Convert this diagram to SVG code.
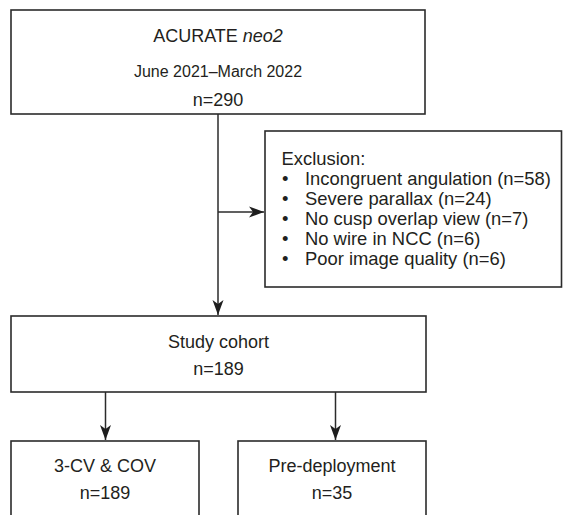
<svg xmlns="http://www.w3.org/2000/svg" width="563" height="515" viewBox="0 0 563 515">
  <style>
    .box { fill: #ffffff; stroke: #2b2b2b; stroke-width: 1.6; }
    .t { font-family: "Liberation Sans", Arial, sans-serif; font-size: 18px; fill: #231f20; }
    .c { text-anchor: middle; }
    .s { font-size: 16px; }
    .l { font-size: 18.4px; }
    .edge { fill: none; stroke: #2b2b2b; stroke-width: 1.5; }
  </style>
  <defs>
    <marker id="arr" markerUnits="userSpaceOnUse" markerWidth="18" markerHeight="12" viewBox="-16 -6 17 12" refX="0" refY="0" orient="auto">
      <path d="M0,0 L-15,-5.5 L-11,0 L-15,5.5 Z" fill="#1e1e1e"/>
    </marker>
  </defs>
  <rect width="563" height="515" fill="#ffffff"/>

  <g id="connectors">
    <path class="edge" d="M218,114 V315" marker-end="url(#arr)"/>
    <path class="edge" d="M218,212 H264" marker-end="url(#arr)"/>
    <path class="edge" d="M105.5,392 V440" marker-end="url(#arr)"/>
    <path class="edge" d="M335.5,392 V440" marker-end="url(#arr)"/>
  </g>

  <g id="node-source">
    <rect class="box" x="11" y="10" width="414" height="104"/>
    <text class="t c" x="218" y="42">ACURATE <tspan font-style="italic">neo2</tspan></text>
    <text class="t c s" x="218" y="77">June 2021–March 2022</text>
    <text class="t c" x="218" y="106">n=290</text>
  </g>

  <g id="node-exclusion">
    <rect class="box" x="265" y="131" width="296.5" height="156"/>
    <text class="t l" x="281.5" y="165">Exclusion:</text>
    <text class="t l" x="282" y="185">•</text>
    <text class="t l" x="305" y="185">Incongruent angulation (n=58)</text>
    <text class="t l" x="282" y="205">•</text>
    <text class="t l" x="305" y="205">Severe parallax (n=24)</text>
    <text class="t l" x="282" y="225">•</text>
    <text class="t l" x="305" y="225">No cusp overlap view (n=7)</text>
    <text class="t l" x="282" y="245">•</text>
    <text class="t l" x="305" y="245">No wire in NCC (n=6)</text>
    <text class="t l" x="282" y="265">•</text>
    <text class="t l" x="305" y="265">Poor image quality (n=6)</text>
  </g>

  <g id="node-study-cohort">
    <rect class="box" x="11" y="316" width="415" height="76"/>
    <text class="t c" x="218.5" y="348">Study cohort</text>
    <text class="t c" x="218.5" y="375">n=189</text>
  </g>

  <g id="node-3cv-cov">
    <rect class="box" x="11" y="441" width="188" height="90"/>
    <text class="t c" x="105" y="472">3-CV &amp; COV</text>
    <text class="t c" x="105" y="499">n=189</text>
  </g>

  <g id="node-pre-deployment">
    <rect class="box" x="238" y="441" width="188" height="90"/>
    <text class="t c" x="332" y="472">Pre-deployment</text>
    <text class="t c" x="332" y="499">n=35</text>
  </g>
</svg>
